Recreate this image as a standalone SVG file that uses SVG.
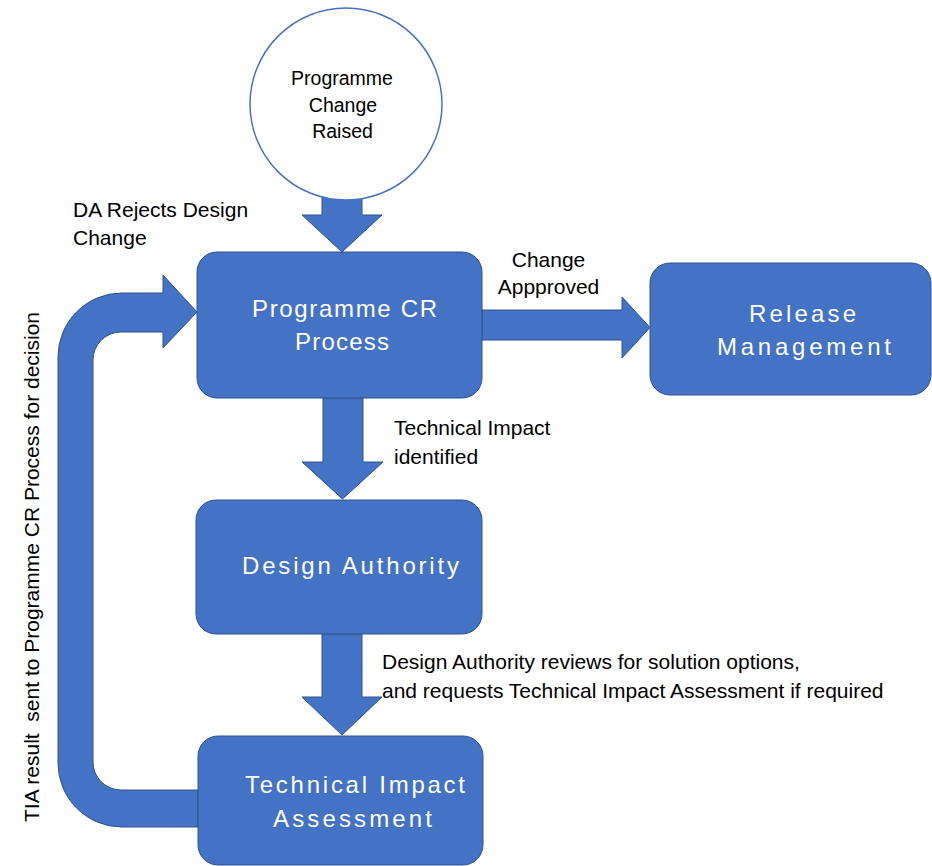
<svg xmlns="http://www.w3.org/2000/svg" width="932" height="866" viewBox="0 0 932 866">
<style>
.box{fill:#4472C4;stroke:#2F528F;stroke-width:1}
.arrow{fill:#4472C4;stroke:#2F528F;stroke-width:1;stroke-linejoin:miter}
.bt{font-family:"Liberation Sans",Arial,sans-serif;font-size:24px;fill:#FFFFFF}
.lbl{font-family:"Liberation Sans",Arial,sans-serif;font-size:21px;fill:#000000}
.ct{font-family:"Liberation Sans",Arial,sans-serif;font-size:19.5px;fill:#000000;text-anchor:middle}
</style>
<rect width="932" height="866" fill="#FFFFFF"/>
<g id="connectors">
  <path class="arrow" d="M322,190 L362,190 L362,215 L382,215 L342,252 L302,215 L322,215 Z"/>
  <path class="arrow" d="M323,398 L363,398 L363,462 L383,462 L342.5,499 L302,462 L323,462 Z"/>
  <path class="arrow" d="M322,634 L362,634 L362,697 L382,697 L342,735 L302,697 L322,697 Z"/>
  <path class="arrow" d="M482,310 L622,310 L622,297 L650,327.5 L622,358 L622,340 L482,340 Z"/>
  <path class="arrow" d="M198,827 L122,827 A64,64 0 0 1 58,763 L58,357 A64,64 0 0 1 122,293 L163,293 L163,275 L197,312 L163,348 L163,332 L121,332 A28,28 0 0 0 93,360 L93,762 A28,28 0 0 0 121,790 L198,790 Z"/>
  <g id="connector-labels">
    <text class="lbl" x="73" y="217">DA Rejects Design</text>
    <text class="lbl" x="73" y="245">Change</text>
    <text class="lbl" x="548.5" y="267" text-anchor="middle">Change</text>
    <text class="lbl" x="548.5" y="294" text-anchor="middle">Appproved</text>
    <text class="lbl" x="394" y="435">Technical Impact</text>
    <text class="lbl" x="394" y="464">identified</text>
    <text class="lbl" x="382" y="669">Design Authority reviews for solution options,</text>
    <text class="lbl" x="382" y="698">and requests Technical Impact Assessment if required</text>
    <text class="lbl" x="0" y="0" transform="translate(39,822) rotate(-90)" xml:space="preserve">TIA result  sent to Programme CR Process for decision</text>
  </g>
</g>
<g id="node-change-raised">
  <circle cx="346" cy="104" r="96" fill="#FFFFFF" stroke="#4472C4" stroke-width="1.5"/>
  <text class="ct" x="342" y="85">Programme</text>
  <text class="ct" x="343" y="112">Change</text>
  <text class="ct" x="342.5" y="138">Raised</text>
</g>
<g id="node-programme-cr">
  <rect class="box" x="197" y="252" width="285" height="146" rx="20" ry="20"/>
  <text class="bt" x="252" y="317" textLength="185" lengthAdjust="spacing">Programme CR</text>
  <text class="bt" x="295" y="350" textLength="94" lengthAdjust="spacing">Process</text>
</g>
<g id="node-release-management">
  <rect class="box" x="650" y="263" width="281" height="132" rx="20" ry="20"/>
  <text class="bt" x="749" y="322" textLength="107" lengthAdjust="spacing">Release</text>
  <text class="bt" x="717" y="355" textLength="174" lengthAdjust="spacing">Management</text>
</g>
<g id="node-design-authority">
  <rect class="box" x="196" y="500" width="286" height="134" rx="20" ry="20"/>
  <text class="bt" x="242" y="574" textLength="217" lengthAdjust="spacing">Design Authority</text>
</g>
<g id="node-tia">
  <rect class="box" x="198" y="736" width="285" height="129" rx="20" ry="20"/>
  <text class="bt" x="245" y="793" textLength="220" lengthAdjust="spacing">Technical Impact</text>
  <text class="bt" x="273" y="827" textLength="159" lengthAdjust="spacing">Assessment</text>
</g>
</svg>
